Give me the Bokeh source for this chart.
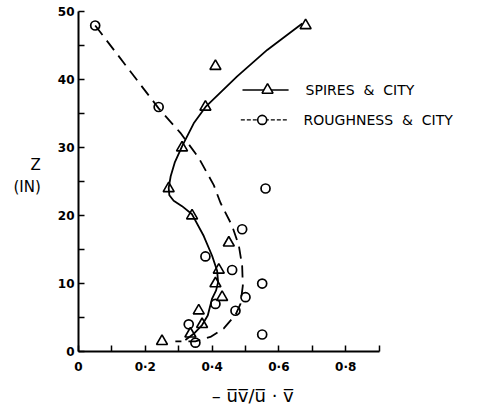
from bokeh.plotting import figure
from bokeh.models import Range1d, FixedTicker, Label, LinearAxis
from bokeh.embed import file_html
from bokeh.resources import INLINE

# ---- data ----
spires_x = [0.68, 0.41, 0.38, 0.31, 0.27, 0.34, 0.45, 0.42, 0.41, 0.43, 0.36, 0.37, 0.335, 0.25]
spires_z = [48, 42, 36, 30, 24, 20, 16, 12, 10, 8, 6, 4, 2.6, 1.5]

rough_x = [0.05, 0.24, 0.56, 0.49, 0.38, 0.46, 0.55, 0.50, 0.47, 0.41, 0.33, 0.35, 0.55]
rough_z = [48, 36, 24, 18, 14, 12, 10, 8, 6, 7, 4, 1.3, 2.5]

# fitted curves
spires_curve_x = [0.67, 0.565, 0.475, 0.382, 0.345, 0.31, 0.288, 0.276, 0.270, 0.272, 0.285, 0.31,
                  0.34, 0.375, 0.40, 0.415, 0.418, 0.412, 0.40, 0.387, 0.37, 0.345, 0.32]
spires_curve_z = [48.3, 44.4, 40.5, 36.1, 33.6, 30.2, 27.8, 25.8, 24.1, 23.0, 22.2, 21.4,
                  20.2, 17.0, 14.1, 11.9, 10.2, 9.0, 7.8, 5.3, 3.9, 2.6, 1.7]

rough_curve_x = [0.05, 0.24, 0.305, 0.36, 0.405, 0.425, 0.46, 0.48, 0.49, 0.492, 0.485,
                 0.47, 0.435, 0.395, 0.35, 0.29]
rough_curve_z = [48.0, 35.8, 32.2, 28.5, 24.5, 21.9, 18.5, 15.6, 12.6, 9.7, 7.0,
                 5.4, 3.4, 2.15, 1.5, 1.5]

x_ticks = [0, 0.2, 0.4, 0.6, 0.8]
x_minor = [0.1, 0.3, 0.5, 0.7, 0.9]
x_tick_labels = ["0", "0·2", "0·4", "0·6", "0·8"]
y_ticks = [0, 10, 20, 30, 40, 50]
y_minor = [5, 15, 25, 35, 45]

series_names = ["SPIRES\u00a0\u00a0&\u00a0\u00a0CITY", "ROUGHNESS\u00a0\u00a0&\u00a0\u00a0CITY"]
x_title = "\u2013 u\u0305v\u0305/u\u0305 \u00b7 v\u0305" + "\u00a0" * 9
y_title = "Z\n(IN)"

FONT = "DejaVu Sans"

p = figure(width=478, height=408, output_backend="svg", toolbar_location=None,
           x_range=Range1d(0, 1.1976), y_range=Range1d(0, 51.68),
           min_border_left=78, min_border_right=0, min_border_top=0, min_border_bottom=55)
p.grid.visible = False
p.outline_line_color = None
p.background_fill_color = "white"
p.border_fill_color = "white"

for ax in (p.xaxis[0], p.yaxis[0]):
    ax.axis_line_width = 2
    ax.axis_line_color = "black"
    ax.major_tick_in = 6
    ax.major_tick_out = 0
    ax.minor_tick_in = 6
    ax.minor_tick_out = 0
    ax.major_tick_line_width = 1.5
    ax.minor_tick_line_width = 1.5
    ax.major_tick_line_color = "black"
    ax.minor_tick_line_color = "black"
    ax.major_label_text_font = FONT
    ax.major_label_text_font_size = "12px"
    ax.major_label_text_font_style = "bold"
    ax.major_label_text_color = "black"
    ax.axis_label_text_font = FONT
    ax.axis_label_text_font_style = "normal"
    ax.axis_label_text_color = "black"

p.xaxis.ticker = FixedTicker(ticks=x_ticks, minor_ticks=x_minor)
p.xaxis.bounds = (0, 0.9)
p.xaxis.major_label_overrides = {t: s for t, s in zip(x_ticks, x_tick_labels)}
p.xaxis.major_label_standoff = 8
p.xaxis.axis_label = x_title
p.xaxis.axis_label_text_font_size = "18px"
p.xaxis.axis_label_standoff = 8

p.yaxis.ticker = FixedTicker(ticks=y_ticks, minor_ticks=y_minor)
p.yaxis.bounds = (0, 50)
p.yaxis.major_label_standoff = 4
p.yaxis.axis_label = y_title
p.yaxis.axis_label_text_font_size = "15px"
p.yaxis.axis_label_standoff = 14
if "axis_label_orientation" in LinearAxis.properties():
    p.yaxis.axis_label_orientation = "horizontal"

# curves
p.line(spires_curve_x, spires_curve_z, line_color="black", line_width=1.8)
p.line(rough_curve_x, rough_curve_z, line_color="black", line_width=1.8, line_dash="12 7")

# points
p.scatter(spires_x, spires_z, marker="triangle", size=11, fill_color=None,
          line_color="black", line_width=1.6)
p.scatter(rough_x, rough_z, marker="circle", size=9, fill_color=None,
          line_color="black", line_width=1.7)

# legend (drawn by hand)
leg_y = [38.5, 34.1]
p.line([0.491, 0.629], [leg_y[0], leg_y[0]], line_color="black", line_width=1.6)
p.scatter([0.566], [leg_y[0]], marker="triangle", size=11, fill_color="white",
          line_color="black", line_width=1.6)
p.line([0.486, 0.625], [leg_y[1], leg_y[1]], line_color="black", line_width=1.4, line_dash="4 2")
p.scatter([0.550], [leg_y[1]], marker="circle", size=9, fill_color="white",
          line_color="black", line_width=1.6)
p.add_layout(Label(x=0.68, y=leg_y[0], text=series_names[0], text_font=FONT,
                   text_font_size="14px", text_baseline="middle", text_color="black"))
p.add_layout(Label(x=0.674, y=leg_y[1], text=series_names[1], text_font=FONT,
                   text_font_size="14px", text_baseline="middle", text_color="black"))

open("out.html", "w").write(file_html(p, INLINE))
